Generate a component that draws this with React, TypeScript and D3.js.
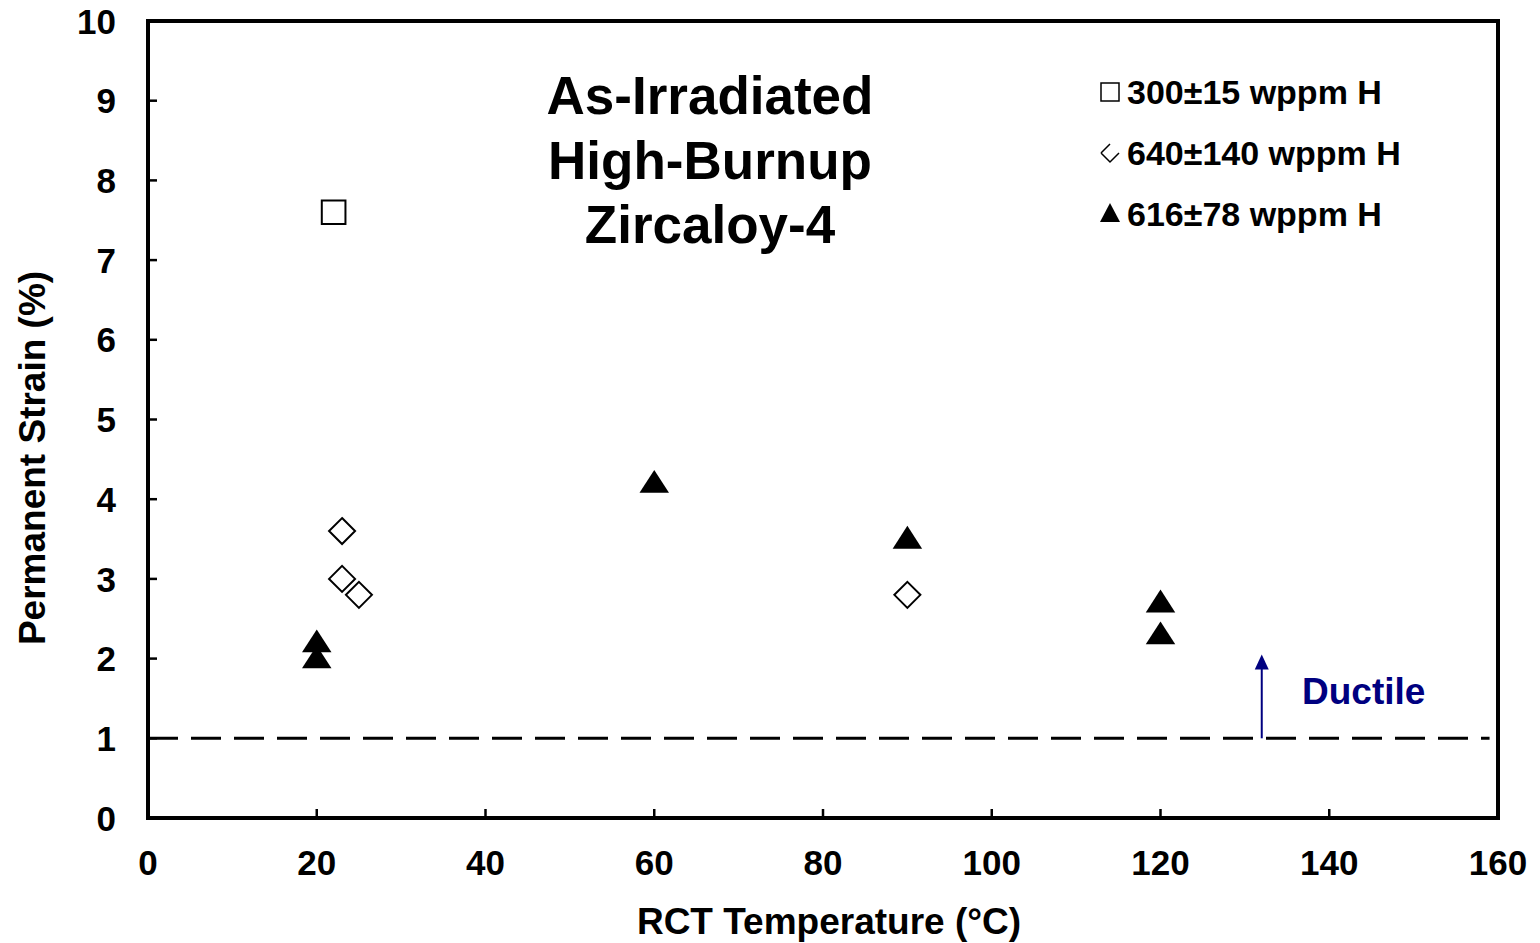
import React from 'react';
import * as d3 from 'd3';

const xTicks = [0, 20, 40, 60, 80, 100, 120, 140, 160];
const yTicks = [0, 1, 2, 3, 4, 5, 6, 7, 8, 9, 10];

// 300±15 wppm H
const sqX = [22];
const sqY = [7.6];
// 640±140 wppm H
const diaX = [23, 23, 25, 90];
const diaY = [3.6, 3.0, 2.8, 2.8];
// 616±78 wppm H
const triX = [20, 20, 60, 90, 120, 120];
const triY = [2.2, 2.0, 4.2, 3.5, 2.7, 2.3];

const titleLines = ['As-Irradiated', 'High-Burnup', 'Zircaloy-4'];
const legendLabels = ['300±15 wppm H', '640±140 wppm H', '616±78 wppm H'];
const ductileLevel = 1;
const arrowX = 132;
const arrowTop = 2.05;

const W = 1540;
const H = 943;
const margin = { left: 148, right: 42, top: 21, bottom: 125 };
const font = 'Liberation Sans, Arial, sans-serif';

export default function App() {
  const x = d3.scaleLinear().domain([0, 160]).range([margin.left, W - margin.right]);
  const y = d3.scaleLinear().domain([0, 10]).range([H - margin.bottom, margin.top]);
  const sym = (type: d3.SymbolType, size: number) => d3.symbol().type(type).size(size)() as string;
  const tri = sym(d3.symbolTriangle, 300);
  const sq = sym(d3.symbolSquare, 560);
  const dia = 'M0,-13L13,0L0,13L-13,0Z';

  const legendY = [92, 153, 214];

  return (
    <svg width={W} height={H} style={{ position: 'absolute', left: 0, top: 0, background: '#fff' }}>
      <rect x={x(0)} y={y(10)} width={x(160) - x(0)} height={y(0) - y(10)} fill="none" stroke="#000" strokeWidth={4} />
      {yTicks.map(t => (
        <g key={'y' + t}>
          <line x1={x(0)} x2={x(0) + 9} y1={y(t)} y2={y(t)} stroke="#000" strokeWidth={2.5} />
          <text x={116} y={y(t)} dy="0.36em" textAnchor="end" fontFamily={font} fontWeight="bold" fontSize={35}>{t}</text>
        </g>
      ))}
      {xTicks.map(t => (
        <g key={'x' + t}>
          <line x1={x(t)} x2={x(t)} y1={y(0)} y2={y(0) - 9} stroke="#000" strokeWidth={2.5} />
          <text x={x(t)} y={875} textAnchor="middle" fontFamily={font} fontWeight="bold" fontSize={35}>{t}</text>
        </g>
      ))}
      <text x={829} y={934} textAnchor="middle" fontFamily={font} fontWeight="bold" fontSize={37}>RCT Temperature (°C)</text>
      <text transform={`translate(45,458) rotate(-90)`} textAnchor="middle" fontFamily={font} fontWeight="bold" fontSize={37}>Permanent Strain (%)</text>

      <line x1={x(0)} x2={x(159)} y1={y(ductileLevel)} y2={y(ductileLevel)} stroke="#000" strokeWidth={3} strokeDasharray="30,13" />
      <line x1={x(arrowX)} x2={x(arrowX)} y1={y(ductileLevel)} y2={y(arrowTop) + 12} stroke="#000080" strokeWidth={2} />
      <path d={`M${x(arrowX)},${y(arrowTop)}L${x(arrowX) + 7},${y(arrowTop) + 15}L${x(arrowX) - 7},${y(arrowTop) + 15}Z`} fill="#000080" />
      <text x={1302} y={704} fontFamily={font} fontWeight="bold" fontSize={37} fill="#000080">Ductile</text>

      {titleLines.map((l, i) => (
        <text key={l} x={710} y={114 + i * 64.5} textAnchor="middle" fontFamily={font} fontWeight="bold" fontSize={53}>{l}</text>
      ))}

      {sqX.map((v, i) => (
        <path key={'s' + i} d={sq} transform={`translate(${x(v)},${y(sqY[i])})`} fill="#fff" stroke="#000" strokeWidth={2} />
      ))}
      {diaX.map((v, i) => (
        <path key={'d' + i} d={dia} transform={`translate(${x(v)},${y(diaY[i])})`} fill="#fff" stroke="#000" strokeWidth={2} />
      ))}
      {triX.map((v, i) => (
        <path key={'t' + i} d={tri} transform={`translate(${x(v)},${y(triY[i]) + 2}) scale(1.12,1)`} fill="#000" />
      ))}

      <rect x={1101} y={legendY[0] - 9} width={18} height={18} fill="#fff" stroke="#000" strokeWidth={1.5} />
      <path d="M1101,153L1110,144M1101,153L1110,162L1119,153" fill="none" stroke="#000" strokeWidth={1.5} />
      <path d={`M1110,${legendY[2] - 11}L1120,${legendY[2] + 8}L1100,${legendY[2] + 8}Z`} fill="#000" />
      {legendLabels.map((l, i) => (
        <text key={l} x={1127} y={legendY[i]} dy="0.36em" fontFamily={font} fontWeight="bold" fontSize={34}>{l}</text>
      ))}
    </svg>
  );
}
